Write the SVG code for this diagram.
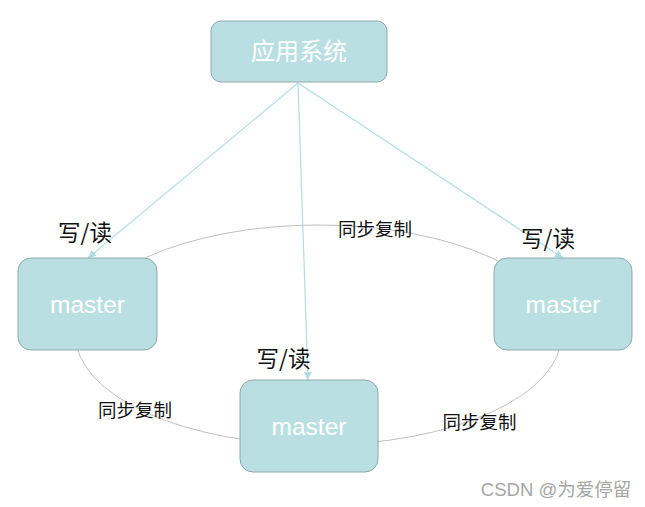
<svg xmlns="http://www.w3.org/2000/svg" width="645" height="507" viewBox="0 0 645 507">
<defs>
<style>
.box{fill:#b9dfe2;stroke:#8fa9aa;stroke-width:1}
.wt{fill:#ffffff;font-family:"Liberation Sans","Noto Sans CJK SC",sans-serif;text-anchor:middle;dominant-baseline:central}
.lbl{fill:#111111;font-family:"Noto Sans CJK SC",sans-serif;text-anchor:middle;dominant-baseline:central}
.arr{stroke:#b2dde0;stroke-width:1.2;fill:none;marker-end:url(#ah)}
.ring{stroke:#c0c0c0;stroke-width:1;fill:none}
</style>
<marker id="ah" viewBox="0 0 10 10" refX="10" refY="5" markerWidth="8" markerHeight="8" markerUnits="userSpaceOnUse" orient="auto">
<path d="M0,0 L10,5 L0,10 z" fill="#b2dde0"/>
</marker>
</defs>
<rect width="645" height="507" fill="#ffffff"/>
<g id="connectors">
<ellipse class="ring" cx="318.5" cy="335" rx="243" ry="110"/>
<line class="arr" x1="298" y1="83" x2="88" y2="258"/>
<line class="arr" x1="298" y1="83" x2="308" y2="380"/>
<line class="arr" x1="298" y1="83" x2="563" y2="258"/>
</g>
<g id="app">
<rect class="box" x="211" y="21" width="176" height="61" rx="10"/>
<text class="wt" x="299" y="51" font-size="24">应用系统</text>
</g>
<g id="master-left">
<rect class="box" x="18" y="258" width="139" height="92" rx="13"/>
<text class="wt" x="87.5" y="304" font-size="24.5">master</text>
</g>
<g id="master-bottom">
<rect class="box" x="240" y="380" width="138" height="92" rx="13"/>
<text class="wt" x="309" y="426" font-size="24.5">master</text>
</g>
<g id="master-right">
<rect class="box" x="494" y="258" width="138" height="92" rx="13"/>
<text class="wt" x="563" y="304" font-size="24.5">master</text>
</g>
<g id="labels">
<text class="lbl" x="85" y="231" font-size="22.5">写/读</text>
<text class="lbl" x="283.5" y="357" font-size="22.5">写/读</text>
<text class="lbl" x="548" y="237" font-size="22.5">写/读</text>
<text class="lbl" x="375" y="228" font-size="18.5">同步复制</text>
<text class="lbl" x="135" y="409" font-size="18.5">同步复制</text>
<text class="lbl" x="479.5" y="421" font-size="18.5">同步复制</text>
</g>
<text x="556" y="489" font-size="18.5" fill="#a6a6a6" font-family="'Liberation Sans','Noto Sans CJK SC',sans-serif" text-anchor="middle" dominant-baseline="central">CSDN @为爱停留</text>
</svg>
